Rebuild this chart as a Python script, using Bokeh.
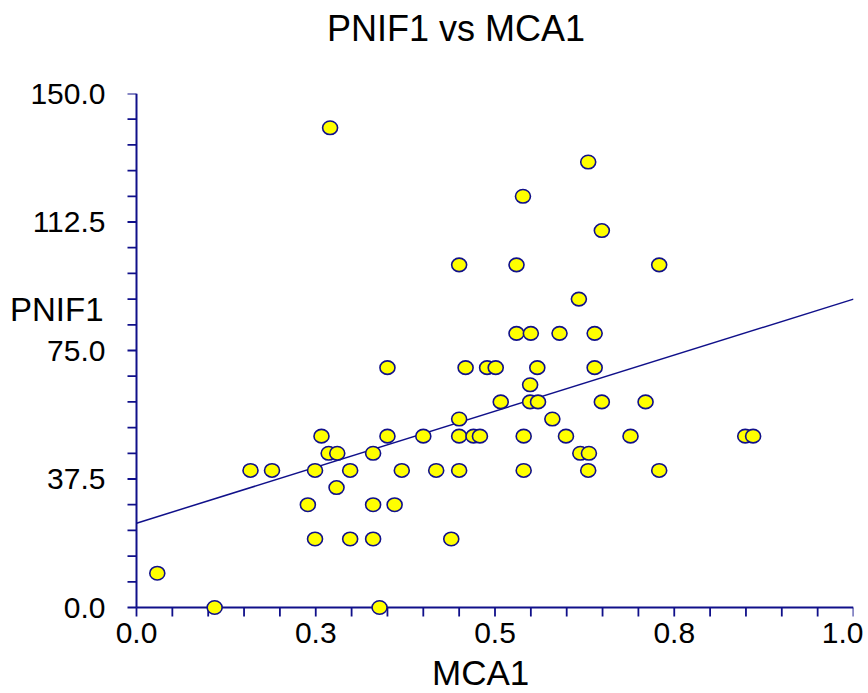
from bokeh.plotting import figure
from bokeh.models import Range1d, FixedTicker, LinearAxis, ColumnDataSource
from bokeh.embed import file_html
from bokeh.resources import INLINE

# ---- data ----
mca1 = [0.029, 0.109, 0.159, 0.189, 0.239, 0.249, 0.249, 0.258, 0.268, 0.280,
        0.279, 0.298, 0.298, 0.330, 0.330, 0.330, 0.350, 0.360, 0.370, 0.339,
        0.400, 0.418, 0.439, 0.450, 0.450, 0.450, 0.470, 0.479, 0.508, 0.540,
        0.540, 0.549, 0.549, 0.560, 0.580, 0.599, 0.619, 0.631, 0.630, 0.649,
        0.710, 0.689, 0.729, 0.849, 0.860, 0.270, 0.539, 0.450, 0.530, 0.617,
        0.530, 0.550, 0.590, 0.350, 0.459, 0.489, 0.501, 0.559, 0.630, 0.649,
        0.729, 0.639, 0.639]
pnif1 = [10, 0, 40, 40, 30, 40, 20, 50, 45, 45,
         35, 40, 20, 45, 30, 20, 50, 30, 40, 0,
         50, 40, 20, 55, 50, 40, 50, 50, 60, 50,
         40, 65, 60, 60, 55, 50, 45, 45, 40, 60,
         60, 50, 40, 50, 50, 140, 120, 100, 100, 90,
         80, 80, 80, 70, 70, 70, 70, 70, 130, 110,
         100, 80, 70]

fit_intercept = 24.6
fit_slope = 65.4

x_ticks = [0.0, 0.25, 0.5, 0.75, 1.0]
x_tick_labels = ["0.0", "0.3", "0.5", "0.8", "1.0"]
x_minor_ticks = [round(0.05 * i, 2) for i in range(21)]
y_ticks = [0.0, 37.5, 75.0, 112.5, 150.0]
y_tick_labels = ["0.0", "37.5", "75.0", "112.5", "150.0"]
y_minor_ticks = [7.5 * i for i in range(21)]

title_text = "PNIF1 vs MCA1"
x_label = "MCA1"
y_label = "PNIF1"
title_at = 0.4456    # where the titles sit along their axes
x_label_at = 0.48
y_label_at = 87.0

# ---- layout ----
FONT = "Liberation Sans"
NAVY = "#10108a"
X_MIN, X_MAX = 0.0, 1.0
Y_MIN, Y_MAX = 0.0, 150.0
px_x = 717.0          # pixels for the 0..1 span
px_y = 514.0          # pixels for the 0..150 span
pad = 10              # room below / left of the axes inside the frame
ux = (X_MAX - X_MIN) / px_x
uy = (Y_MAX - Y_MIN) / px_y
tick_len = 9

p = figure(frame_width=int(px_x + pad), frame_height=int(px_y + pad),
           min_border_left=126, min_border_right=10,
           min_border_top=93, min_border_bottom=70,
           x_range=Range1d(X_MIN - pad * ux, X_MAX),
           y_range=Range1d(Y_MIN - pad * uy, Y_MAX),
           x_axis_location=None, y_axis_location=None,
           output_backend="svg", toolbar_location=None,
           background_fill_color="white", border_fill_color="white")
p.outline_line_color = None
p.grid.visible = False
p.title.visible = False


def label_axis(ticks, labels, size, standoff, minor=None):
    ax = LinearAxis(ticker=FixedTicker(ticks=ticks, minor_ticks=minor or []))
    ax.major_label_overrides = {t: l for t, l in zip(ticks, labels)}
    ax.axis_line_color = None
    ax.major_tick_line_color = None
    ax.minor_tick_line_color = None
    ax.major_tick_in = 0
    ax.major_tick_out = 0
    ax.minor_tick_in = 0
    ax.minor_tick_out = 0
    ax.major_label_text_font = FONT
    ax.major_label_text_font_size = size
    ax.major_label_text_color = "black"
    ax.major_label_text_line_height = 1.0
    ax.major_label_standoff = standoff
    return ax


p.add_layout(label_axis([title_at], [title_text], "36px", 45), "above")
p.add_layout(label_axis(x_ticks, x_tick_labels, "30px", 5), "below")
p.add_layout(label_axis([x_label_at], [x_label], "35px", 7), "below")
p.add_layout(label_axis(y_ticks, y_tick_labels, "30px", 21), "left")
p.add_layout(label_axis([y_label_at], [y_label], "33px", -76), "left")

# axis lines and tick marks drawn at the data origin
p.segment(x0=[X_MIN], y0=[Y_MIN], x1=[X_MAX], y1=[Y_MIN],
          line_color=NAVY, line_width=2)
p.segment(x0=[X_MIN], y0=[Y_MIN], x1=[X_MIN], y1=[Y_MAX],
          line_color=NAVY, line_width=2)
p.segment(x0=x_minor_ticks, y0=[Y_MIN] * len(x_minor_ticks),
          x1=x_minor_ticks, y1=[Y_MIN - tick_len * uy] * len(x_minor_ticks),
          line_color=NAVY, line_width=1.8)
p.segment(x0=[X_MIN] * len(y_minor_ticks), y0=y_minor_ticks,
          x1=[X_MIN - tick_len * ux] * len(y_minor_ticks), y1=y_minor_ticks,
          line_color=NAVY, line_width=1.8)

# regression line
p.line(x=[X_MIN, X_MAX],
       y=[fit_intercept + fit_slope * X_MIN, fit_intercept + fit_slope * X_MAX],
       line_color=NAVY, line_width=1.5)

src = ColumnDataSource(dict(x=mca1, y=pnif1))
p.ellipse(x="x", y="y", width=15, height=13.5, width_units="screen",
          height_units="screen", source=src, fill_color="#FFFF00",
          line_color=NAVY, line_width=1.6)

open("out.html", "w").write(file_html(p, INLINE))
